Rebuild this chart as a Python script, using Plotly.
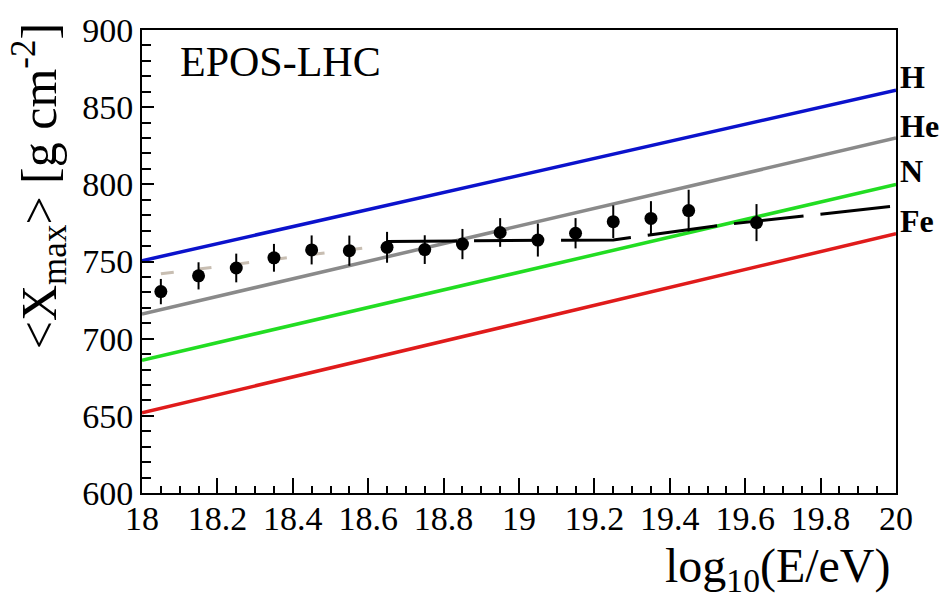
import plotly.graph_objects as go

# ---- data ----
lgE = [18.05, 18.15, 18.25, 18.35, 18.45, 18.55, 18.65, 18.75, 18.85, 18.95,
       19.05, 19.15, 19.25, 19.35, 19.45, 19.63]
xmax = [730.5, 740.7, 745.8, 752.4, 757.5, 757.0, 759.2, 757.7, 761.3, 768.8,
        763.9, 768.3, 775.8, 777.9, 783.0, 775.2]
xmax_err = [8.2, 8.8, 9.3, 9.0, 9.4, 9.8, 10.0, 9.3, 9.8, 9.3,
            10.7, 9.8, 10.6, 11.2, 13.5, 12.0]

model_x = [18.0, 20.0]
H_y = [750.5, 861.0]
He_y = [716.0, 830.0]
N_y = [686.0, 800.0]
Fe_y = [652.0, 768.0]

low_fit_x = [18.05, 18.65]
low_fit_y = [742.0, 760.7]

high_fit_x = [18.65, 19.25, 19.55, 20.0]
high_fit_y = [763.0, 764.0, 774.0, 786.0]

species = ["H", "He", "N", "Fe"]
species_label_y = [869.5, 837.5, 808.5, 776.5]

x_tickvals = [18, 18.2, 18.4, 18.6, 18.8, 19, 19.2, 19.4, 19.6, 19.8, 20]
x_ticktext = ["18", "18.2", "18.4", "18.6", "18.8", "19", "19.2", "19.4",
              "19.6", "19.8", "20"]

SERIF = "Liberation Serif, Times New Roman, serif"

fig = go.Figure()

for yv, col in [(H_y, "#0b12cc"), (He_y, "#8a8a8a"), (N_y, "#22dd22"), (Fe_y, "#e01b1b")]:
    fig.add_trace(go.Scatter(x=model_x, y=yv, mode="lines",
                             line=dict(color=col, width=3.5), showlegend=False,
                             hoverinfo="skip"))

fig.add_trace(go.Scatter(x=low_fit_x, y=low_fit_y, mode="lines",
                         line=dict(color="#c8beb2", width=3, dash="13px,25px"),
                         showlegend=False, hoverinfo="skip"))
fig.add_trace(go.Scatter(x=high_fit_x, y=high_fit_y, mode="lines",
                         line=dict(color="black", width=3, dash="70px,17px"),
                         showlegend=False, hoverinfo="skip"))

fig.add_trace(go.Scatter(x=lgE, y=xmax, mode="markers",
                         marker=dict(color="black", size=13),
                         error_y=dict(type="data", array=xmax_err, visible=True,
                                      color="black", thickness=2, width=0),
                         showlegend=False))

annotations = [
    dict(text="EPOS-LHC", xref="paper", yref="paper", x=0.048, y=0.931,
         xanchor="left", yanchor="middle", showarrow=False,
         font=dict(family=SERIF, size=42, color="black")),
    dict(text="&lt;X<sub>max</sub>&gt; [g cm<sup>-2</sup>]", xref="paper", yref="paper",
         x=-0.136, y=1.02, xanchor="center", yanchor="top", textangle=-90,
         showarrow=False, font=dict(family=SERIF, size=50, color="black")),
    dict(text="log<sub>10</sub>(E/eV)", xref="paper", yref="paper",
         x=0.996, y=-0.095, xanchor="right", yanchor="top",
         showarrow=False, font=dict(family=SERIF, size=48, color="black")),
]
for name, yv in zip(species, species_label_y):
    annotations.append(dict(text="<b>%s</b>" % name, xref="paper", yref="y",
                            x=1.003, y=yv, xanchor="left", yanchor="middle",
                            showarrow=False,
                            font=dict(family=SERIF, size=32, color="black")))

fig.update_layout(
    width=944, height=605,
    margin=dict(l=142, r=48, t=23, b=112),
    paper_bgcolor="white", plot_bgcolor="white",
    font=dict(family=SERIF, color="black"),
    annotations=annotations,
    showlegend=False,
)
fig.update_xaxes(range=[18, 20], showgrid=False, zeroline=False,
                 showline=True, linecolor="black", linewidth=2, mirror=True,
                 ticks="inside", ticklen=15, tickwidth=2, tickcolor="black",
                 minor=dict(dtick=0.05, tick0=18, ticks="inside", ticklen=7,
                            tickwidth=2, tickcolor="black"),
                 tickfont=dict(family=SERIF, size=34, color="black"),
                 ticklabelstandoff=-6,
                 tickvals=x_tickvals, ticktext=x_ticktext)
fig.update_yaxes(range=[600, 900], dtick=50, tick0=600, showgrid=False, zeroline=False,
                 showline=True, linecolor="black", linewidth=2, mirror=True,
                 ticks="inside", ticklen=12, tickwidth=2, tickcolor="black",
                 minor=dict(dtick=10, tick0=600, ticks="inside", ticklen=9,
                            tickwidth=2, tickcolor="black"),
                 tickfont=dict(family=SERIF, size=34, color="black"))

fig.write_html("out.html", config={"displayModeBar": False},
               post_script="document.body.style.margin='0';document.body.style.padding='0';")
